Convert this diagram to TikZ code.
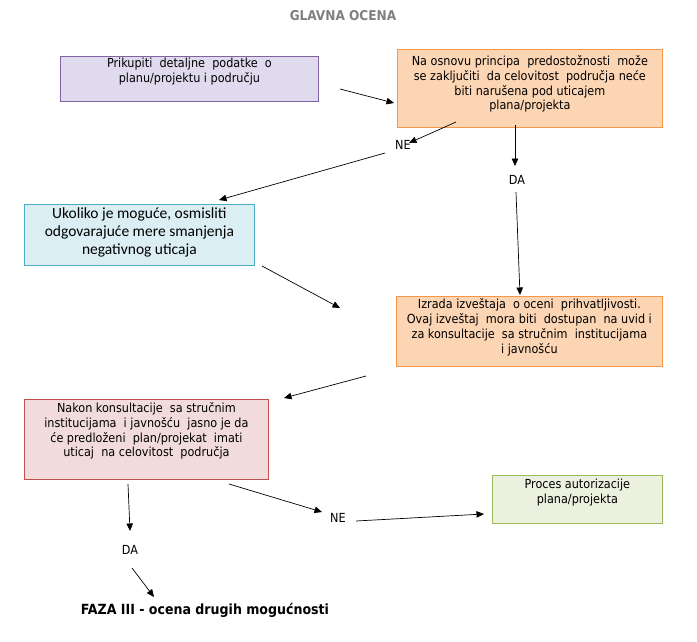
\documentclass[tikz,border=0pt]{standalone}
\usepackage{fontspec}
\setmainfont{DejaVu Sans Condensed}
\newfontfamily\calfont{Carlito}
\usetikzlibrary{arrows.meta}
\definecolor{purfill}{HTML}{E0DAEE}
\definecolor{purdraw}{HTML}{8064A2}
\definecolor{orfill}{HTML}{FCD5B4}
\definecolor{ordraw}{HTML}{F79646}
\definecolor{blfill}{HTML}{DAEEF3}
\definecolor{bldraw}{HTML}{4BACC6}
\definecolor{pkfill}{HTML}{F2DCDB}
\definecolor{pkdraw}{HTML}{C0504D}
\definecolor{grfill}{HTML}{EBF1DE}
\definecolor{grdraw}{HTML}{9BBB59}
\newcommand{\boxtext}[4]{\parbox[c][#2pt][t]{#1pt}{\centering\vspace*{#3pt}#4\par}}
\begin{document}
\begin{tikzpicture}[x=1pt,y=-1pt,
  box/.style={draw, line width=0.8pt, inner sep=0pt, anchor=north west},
  txt/.style={font=\fontsize{12.5}{14.8}\selectfont},
  lbl/.style={font=\fontsize{12.5}{14}\selectfont, inner sep=1pt},
  arr/.style={-{Triangle[length=7.5pt,width=6.5pt]}, line width=0.7pt}]
\useasboundingbox (0,0) rectangle (697,641);
\fill[white] (0,0) rectangle (697,641);
\node[font=\bfseries\fontsize{13.5}{15}\selectfont, text=black!50] (title) at (343,16) {GLAVNA OCENA};
% boxes
\node[box, fill=purfill, draw=purdraw, txt] (b1) at (60,56)
  {\boxtext{258}{45}{2}{Prikupiti\ \ detaljne\ \ podatke\ \ o\\planu/projektu\ i području}};
\node[box, fill=orfill, draw=ordraw, txt] (b2) at (397,49)
  {\boxtext{265}{78}{6}{Na osnovu\ principa\ \ predostožnosti\ \ može\\se zaključiti\ \ da\ celovitost\ \ područja\ neće\\biti narušena pod uticajem\\plana/projekta}};
\node[box, fill=blfill, draw=bldraw, font=\calfont\fontsize{15.5}{18}\selectfont] (b3) at (24,204)
  {\boxtext{230}{61}{3}{Ukoliko je moguće, osmisliti\\odgovarajuće mere smanjenja\\negativnog uticaja}};
\node[box, fill=orfill, draw=ordraw, txt] (b4) at (396,296)
  {\boxtext{266}{70}{2.5}{Izrada izveštaja\ \ o oceni\ \ prihvatljivosti.\\Ovaj izveštaj\ \ mora biti\ \ dostupan\ \ na uvid i\\za konsultacije\ \ sa stručnim\ \ institucijama\\i javnošću}};
\node[box, fill=pkfill, draw=pkdraw, txt] (b5) at (24,399)
  {\boxtext{244}{80}{3}{Nakon konsultacije\ \ sa stručnim\\institucijama\ \ i javnošću\ \ jasno je da\\će predloženi\ \ plan/projekat\ \ imati\\uticaj\ \ na celovitost\ \ područja}};
\node[box, fill=grfill, draw=grdraw, txt] (b6) at (492,475)
  {\boxtext{170}{48}{4}{Proces autorizacije\\plana/projekta}};
% labels
\node[lbl] (ne1) at (403,145) {NE};
\node[lbl] (da1) at (517,180) {DA};
\node[lbl] (ne2) at (338,518) {NE};
\node[lbl] (da2) at (130,550) {DA};
\node[font=\bfseries\fontsize{14}{16}\selectfont] (faza) at (205,610) {FAZA III - ocena drugih mogućnosti};
% free ends
\coordinate (a1s) at (340,89);  \coordinate (a1e) at (394,103);
\coordinate (a2s) at (456,122); \coordinate (a2e) at (409,143);
\coordinate (a3s) at (385,153); \coordinate (a3e) at (219,200);
\coordinate (a4s) at (515,125); \coordinate (a4e) at (515,166);
\coordinate (a5s) at (516,192); \coordinate (a5e) at (520,295);
\coordinate (a6s) at (262,266); \coordinate (a6e) at (340,308);
\coordinate (a7s) at (366,376); \coordinate (a7e) at (284,398);
\coordinate (a8s) at (128,484); \coordinate (a8e) at (130,531);
\coordinate (a9s) at (132,568); \coordinate (a9e) at (154,597);
\coordinate (a10s) at (229,484); \coordinate (a10e) at (322,512);
\coordinate (a11s) at (356,521); \coordinate (a11e) at (484,514);
\foreach \i in {1,...,11} {\draw[arr] (a\i s) -- (a\i e);}
\end{tikzpicture}
\end{document}
